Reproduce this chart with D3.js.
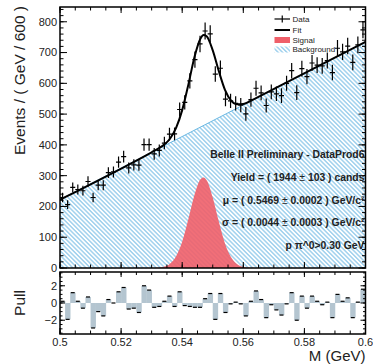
<!DOCTYPE html>
<html>
<head>
<meta charset="utf-8">
<script src="https://cdn.jsdelivr.net/npm/d3@7"></script>
<style>
  body { margin: 0; background: #fff; }
  svg { display: block; font-family: "Liberation Sans", Arial, sans-serif; }
</style>
</head>
<body>
<script>
// histogram: 60 bins between 0.5 and 0.6 GeV
const massRange = [0.5, 0.6];
const nBins = 60;
const counts = [229, 206, 262, 255, 251, 281, 229, 269, 269, 310,
                312, 344, 362, 325, 335, 334, 401, 401, 371, 382,
                406, 435, 436, 515, 538, 608, 677, 728, 770, 761,
                630, 649, 549, 543, 535, 529, 501, 547, 584, 569,
                528, 572, 566, 560, 600, 641, 570, 648, 622, 666,
                659, 657, 674, 635, 714, 702, 721, 668, 725, 774];
const pulls = [0.2, -1.9, 1.2, 0.2, -0.6, 0.7, -2.9, -1.0, -1.5, 0.4,
               0.0, 1.3, 1.8, -0.7, -0.6, -1.1, 2.0, 1.5, -0.5, -0.4,
               0.2, 0.8, -0.4, 1.3, -0.3, -0.4, -0.5, -0.5, 0.5, 1.1,
               -1.9, 1.1, -1.1, -0.1, 0.1, -0.1, -1.5, 0.2, 1.4, 0.4,
               -1.7, -0.2, -0.8, -1.4, -0.1, 1.2, -2.0, 0.8, -0.6, 0.8,
               0.2, -0.2, 0.1, -1.7, 1.0, 0.2, 0.6, -1.7, 0.1, 1.6];

// fit curve (signal + background)
const fitX = [0.5, 0.53, 0.532, 0.534, 0.536, 0.538, 0.540, 0.542, 0.544, 0.546, 0.547,
              0.548, 0.550, 0.552, 0.554, 0.556, 0.558, 0.560, 0.562, 0.564, 0.6];
const fitY = [222, 376, 387, 400, 420, 455, 513, 595, 685, 746, 757,
              753, 707, 639, 579, 544, 532, 533, 541, 551, 735];

// signal component
const sigX = [0.530, 0.532, 0.534, 0.536, 0.538, 0.540, 0.542, 0.544, 0.546, 0.547,
              0.548, 0.550, 0.552, 0.554, 0.556, 0.558, 0.560, 0.562, 0.564];
const sigY = [0.2, 1, 4, 14, 38, 86, 158, 237, 288, 294,
              285, 229, 150, 80, 35, 12, 3.5, 0.8, 0.2];

// background component (linear)
const bgX = [0.5, 0.6];
const bgY = [222, 735];

const yTicksMain = [0, 100, 200, 300, 400, 500, 600, 700, 800];
const xTicks = [0.5, 0.52, 0.54, 0.56, 0.58, 0.6];
const xTickLabels = ["0.5", "0.52", "0.54", "0.56", "0.58", "0.6"];
const pullTicks = [-2, 0, 2];
const pullTickLabels = ["\u22122", "0", "2"];

const legendItems = ["Data", "Fit", "Signal", "Background"];
const infoLines = [
    ["Belle II Preliminary - DataProd6"],
    ["Yield = ( 1944 ", "\u00b1", " 103 ) cands"],
    ["\u03bc = ( 0.5469 ", "\u00b1", " 0.0002 ) GeV/c\u00b2"],
    ["\u03c3 = ( 0.0044 ", "\u00b1", " 0.0003 ) GeV/c\u00b2"],
    ["p  \u03c0^0>0.30 GeV"]
];

const W = 373, H = 364;
const L = 60, R = 365.5;
const mainTop = 7, mainBot = 268;
const pullTop = 272, pullBot = 334;

const svg = d3.select("body").append("svg").attr("width", W).attr("height", H);

const x = d3.scaleLinear().domain(massRange).range([L, R]);
const y = d3.scaleLinear().domain([0, 848]).range([mainBot, mainTop]);
const yp = d3.scaleLinear().domain([-3.6, 3.6]).range([pullBot, pullTop]);

const binW = (massRange[1] - massRange[0]) / nBins;
const bins = counts.map((c, i) => ({
    lo: massRange[0] + i * binW,
    hi: massRange[0] + (i + 1) * binW,
    mid: massRange[0] + (i + 0.5) * binW,
    n: c,
    pull: pulls[i]
}));

const defs = svg.append("defs");
const hatch = defs.append("pattern")
    .attr("id", "hatch")
    .attr("patternUnits", "userSpaceOnUse")
    .attr("width", 3.1).attr("height", 3.1)
    .attr("patternTransform", "rotate(-45)");
hatch.append("rect").attr("width", 3.1).attr("height", 3.1).attr("fill", "#fff");
hatch.append("line")
    .attr("x1", 1.55).attr("y1", 0).attr("x2", 1.55).attr("y2", 3.1)
    .attr("stroke", "#5aafe0").attr("stroke-width", 0.85);

defs.append("clipPath").attr("id", "clipMain")
    .append("rect").attr("x", L).attr("y", mainTop).attr("width", R - L).attr("height", mainBot - mainTop);

// ---- main panel ----
const main = svg.append("g").attr("clip-path", "url(#clipMain)");

const bgPts = bgX.map((v, i) => [v, bgY[i]]);
main.append("path")
    .datum(bgPts)
    .attr("fill", "url(#hatch)")
    .attr("d", d3.area().x(d => x(d[0])).y0(y(0)).y1(d => y(d[1])));
main.append("path")
    .datum(bgPts)
    .attr("fill", "none")
    .attr("stroke", "#6bb8e3")
    .attr("stroke-width", 1)
    .attr("d", d3.line().x(d => x(d[0])).y(d => y(d[1])));

const sigPts = sigX.map((v, i) => [v, sigY[i]]);
main.append("path")
    .datum(sigPts)
    .attr("fill", "#ef5f69")
    .attr("fill-opacity", 0.9)
    .attr("d", d3.area().curve(d3.curveMonotoneX).x(d => x(d[0])).y0(y(0)).y1(d => y(d[1])));

const fitPts = fitX.map((v, i) => [v, fitY[i]]);
main.append("path")
    .datum(fitPts)
    .attr("fill", "none")
    .attr("stroke", "#000")
    .attr("stroke-width", 2)
    .attr("d", d3.line().curve(d3.curveMonotoneX).x(d => x(d[0])).y(d => y(d[1])));

const pts = main.append("g").attr("stroke", "#000").attr("stroke-width", 1.2);
pts.selectAll("line.h").data(bins).join("line")
    .attr("x1", d => x(d.lo)).attr("x2", d => x(d.hi))
    .attr("y1", d => y(d.n)).attr("y2", d => y(d.n));
pts.selectAll("line.v").data(bins).join("line")
    .attr("x1", d => x(d.mid)).attr("x2", d => x(d.mid))
    .attr("y1", d => y(d.n - Math.sqrt(d.n))).attr("y2", d => y(d.n + Math.sqrt(d.n)));

// ---- pull panel ----
const pullG = svg.append("g");
pullG.selectAll("rect").data(bins).join("rect")
    .attr("x", d => x(d.lo))
    .attr("width", d => x(d.hi) - x(d.lo) + 0.3)
    .attr("y", d => Math.min(yp(0), yp(d.pull)))
    .attr("height", d => Math.abs(yp(d.pull) - yp(0)))
    .attr("fill", "#b4c5d0");
pullG.selectAll("line").data(bins).join("line")
    .attr("x1", d => x(d.mid) - 2).attr("x2", d => x(d.mid) + 2)
    .attr("y1", d => yp(d.pull)).attr("y2", d => yp(d.pull))
    .attr("stroke", "#000").attr("stroke-width", 1.2);

// ---- axes (ROOT style, ticks inside) ----
const axes = svg.append("g").attr("stroke", "#000").attr("fill", "none");

function xTickMarks(yPos, dir, vals, len) {
    axes.append("g").selectAll("line").data(vals).join("line")
        .attr("x1", d => x(d)).attr("x2", d => x(d))
        .attr("y1", yPos).attr("y2", yPos + dir * len)
        .attr("stroke-width", 1);
}
function yTickMarks(scale, xPos, dir, vals, len) {
    axes.append("g").selectAll("line").data(vals).join("line")
        .attr("x1", xPos).attr("x2", xPos + dir * len)
        .attr("y1", d => scale(d)).attr("y2", d => scale(d))
        .attr("stroke-width", 1);
}

const xMinor = d3.range(0.5, 0.6001, 0.005);
const yMinor = d3.range(0, 848, 20);
const pMinor = d3.range(-3.5, 3.51, 0.5);

// main
yTickMarks(y, L, 1, yTicksMain, 7);
yTickMarks(y, L, 1, yMinor, 3.5);
yTickMarks(y, R, -1, yTicksMain, 7);
yTickMarks(y, R, -1, yMinor, 3.5);
xTickMarks(mainTop, 1, xTicks, 6);
xTickMarks(mainTop, 1, xMinor, 3.5);
xTickMarks(mainBot, -1, xTicks, 6);
xTickMarks(mainBot, -1, xMinor, 3.5);
// pull
yTickMarks(yp, L, 1, pullTicks, 5);
yTickMarks(yp, L, 1, pMinor, 2.5);
yTickMarks(yp, R, -1, pullTicks, 5);
yTickMarks(yp, R, -1, pMinor, 2.5);
xTickMarks(pullTop, 1, xTicks, 5);
xTickMarks(pullTop, 1, xMinor, 3);
xTickMarks(pullBot, -1, xTicks, 6);
xTickMarks(pullBot, -1, xMinor, 3.5);

axes.append("rect").attr("x", L).attr("y", mainTop).attr("width", R - L).attr("height", mainBot - mainTop)
    .attr("stroke-width", 1.5);
axes.append("rect").attr("x", L).attr("y", pullTop).attr("width", R - L).attr("height", pullBot - pullTop)
    .attr("stroke-width", 1.5);

// tick labels
const labels = svg.append("g").attr("font-size", 11).attr("fill", "#222");
labels.selectAll("text.ym").data(yTicksMain).join("text")
    .attr("x", L - 3).attr("y", d => y(d)).attr("dy", "0.35em")
    .attr("text-anchor", "end").text(d => d);
labels.selectAll("text.yp").data(pullTicks).join("text")
    .attr("x", L - 3).attr("y", d => yp(d)).attr("dy", "0.35em")
    .attr("text-anchor", "end").text((d, i) => pullTickLabels[i]);
labels.selectAll("text.x").data(xTicks).join("text")
    .attr("x", d => x(d)).attr("y", pullBot + 11.5)
    .attr("text-anchor", "middle").text((d, i) => xTickLabels[i]);

// axis titles
svg.append("text")
    .attr("transform", `translate(24.5,6) rotate(-90)`)
    .attr("text-anchor", "end")
    .attr("font-size", 15.5).attr("fill", "#222")
    .text("Events / ( GeV / 600 )");
svg.append("text")
    .attr("transform", `translate(24.5,${(pullTop + pullBot) / 2}) rotate(-90)`)
    .attr("text-anchor", "middle")
    .attr("font-size", 15.5).attr("fill", "#222")
    .text("Pull");
svg.append("text")
    .attr("x", R).attr("y", 361)
    .attr("text-anchor", "end")
    .attr("font-size", 15).attr("fill", "#222")
    .text("M (GeV)");

// legend
const leg = svg.append("g").attr("font-size", 8).attr("fill", "#222");
const legY = [19, 30, 40, 49.5];
const lx0 = 274.5, lx1 = 290;
leg.append("line").attr("x1", lx0).attr("x2", lx1).attr("y1", legY[0]).attr("y2", legY[0])
    .attr("stroke", "#000").attr("stroke-width", 1.2);
leg.append("line").attr("x1", (lx0 + lx1) / 2).attr("x2", (lx0 + lx1) / 2)
    .attr("y1", legY[0] - 3.5).attr("y2", legY[0] + 3.5)
    .attr("stroke", "#000").attr("stroke-width", 1.2);
leg.append("line").attr("x1", lx0).attr("x2", lx1).attr("y1", legY[1]).attr("y2", legY[1])
    .attr("stroke", "#000").attr("stroke-width", 2);
leg.append("rect").attr("x", lx0).attr("y", legY[2] - 3).attr("width", lx1 - lx0).attr("height", 6)
    .attr("fill", "#ef5f69");
leg.append("rect").attr("x", lx0).attr("y", legY[3] - 3).attr("width", lx1 - lx0).attr("height", 6)
    .attr("fill", "url(#hatch)");
leg.selectAll("text").data(legendItems).join("text")
    .attr("x", 292.5).attr("y", (d, i) => legY[i]).attr("dy", "0.35em")
    .text(d => d);

// info text block
const info = svg.append("g").attr("font-size", 10.4).attr("font-weight", "bold")
    .attr("fill", "#222").attr("text-anchor", "end");
const infoY = [157.5, 180.5, 203.5, 226, 248.5];
infoLines.forEach((parts, i) => {
    const t = info.append("text").attr("x", 364.5).attr("y", infoY[i]);
    parts.forEach(p => {
        const s = t.append("tspan").text(p);
        if (p === "\u00b1") s.attr("font-weight", "normal");
    });
});
</script>
</body>
</html>
